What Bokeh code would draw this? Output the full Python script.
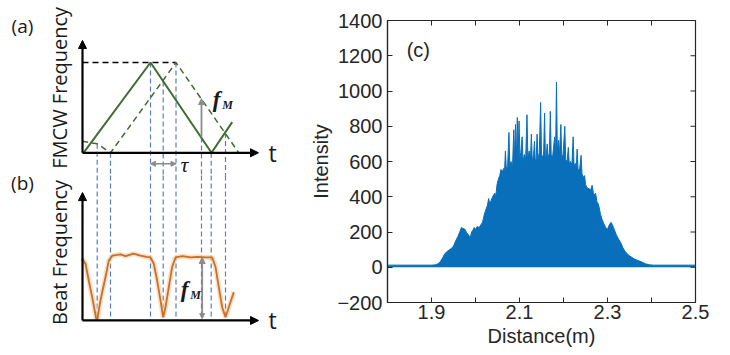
import numpy as np
from bokeh.plotting import figure
from bokeh.layouts import row, column
from bokeh.models import Range1d, FixedTicker, Arrow, NormalHead, Label
from bokeh.embed import file_html
from bokeh.resources import INLINE

# ---------------- panel (c): measured spectrum ----------------
distance = [1.800, 1.900, 1.910, 1.915, 1.920, 1.925, 1.930, 1.935, 1.940, 1.945, 1.950, 1.955,
            1.960, 1.965, 1.968, 1.972, 1.976, 1.980, 1.984, 1.988, 1.991, 1.994, 1.997, 2.000,
            2.004, 2.008, 2.012, 2.016, 2.020, 2.024, 2.027, 2.030, 2.032, 2.035, 2.038, 2.041,
            2.044, 2.046, 2.049, 2.052, 2.055, 2.058, 2.061, 2.064, 2.066, 2.068, 2.070, 2.073,
            2.076, 2.078, 2.081, 2.084, 2.087, 2.089, 2.091, 2.093, 2.095, 2.097, 2.099, 2.101,
            2.103, 2.106, 2.108, 2.111, 2.114, 2.117, 2.119, 2.122, 2.125, 2.127, 2.129, 2.132,
            2.134, 2.136, 2.138, 2.140, 2.142, 2.145, 2.148, 2.150, 2.153, 2.155, 2.157, 2.159,
            2.161, 2.163, 2.165, 2.168, 2.170, 2.172, 2.175, 2.177, 2.180, 2.182, 2.184, 2.186,
            2.189, 2.191, 2.194, 2.196, 2.199, 2.203, 2.205, 2.208, 2.211, 2.213, 2.216, 2.219,
            2.222, 2.224, 2.227, 2.229, 2.231, 2.233, 2.236, 2.240, 2.242, 2.245, 2.248, 2.250,
            2.254, 2.258, 2.262, 2.265, 2.268, 2.271, 2.273, 2.276, 2.279, 2.281, 2.284, 2.288,
            2.292, 2.296, 2.300, 2.304, 2.308, 2.312, 2.316, 2.320, 2.325, 2.330, 2.335, 2.340,
            2.345, 2.350, 2.356, 2.362, 2.370, 2.379, 2.386, 2.395, 2.405, 2.420, 2.500]
intensity = [12, 12, 14, 20, 32, 52, 76, 88, 98, 106, 120, 150,
             175, 205, 225, 220, 215, 195, 185, 165, 200, 210, 225, 215,
             232, 225, 240, 255, 300, 330, 350, 390, 365, 375, 395, 410,
             420, 400, 470, 500, 520, 555, 540, 560, 545, 660, 560, 570,
             765, 580, 600, 560, 780, 610, 810, 620, 850, 640, 830, 620,
             650, 740, 600, 640, 610, 865, 620, 660, 620, 755, 600, 640,
             715, 590, 620, 755, 610, 650, 935, 640, 620, 660, 875, 600,
             640, 700, 620, 650, 885, 640, 620, 670, 740, 630, 1050, 660,
             720, 640, 810, 620, 640, 800, 610, 600, 680, 590, 600, 580,
             740, 570, 590, 560, 670, 560, 540, 635, 530, 510, 520, 470,
             450, 445, 440, 465, 420, 410, 420, 370, 360, 340, 300, 270,
             245, 225, 215, 240, 255, 235, 210, 185, 160, 140, 110, 90,
             75, 65, 55, 45, 38, 28, 20, 14, 12, 12, 12]
c_xticks = [1.9, 2.1, 2.3, 2.5]
c_xminor = [2.0, 2.2, 2.4]
c_yticks = [-200, 0, 200, 400, 600, 800, 1000, 1200, 1400]

# ---------------- panel (a): FMCW chirps (schematic) ----------------
tx_t = [0.1, 6.8, 12.9, 14.97]          # transmitted chirp (solid)
tx_f = [0.0, 1.0, 0.0, 0.34]
rx_t = [-0.03, 1.47, 2.8, 9.35, 15.63]  # delayed echo (dashed)
rx_f = [0.128, 0.10, 0.0, 1.0, 0.0]
mark_t = [1.47, 2.8, 6.8, 8.07, 9.35, 11.9, 12.87, 14.3]   # guide lines
mark_f = [0.10, 0.0, 1.0, 0.79, 1.0, 0.17, 0.0, 0.22]
tau_t = [6.8, 9.35]
fm_a_t = 11.9
fm_a_f = [0.17, 0.60]

# ---------------- panel (b): beat frequency (schematic) ----------------
beat_t = [-0.03, 0.3, 0.63, 0.97, 1.37, 1.5, 1.8, 2.3, 2.63, 3.0, 3.8, 4.3, 5.1, 5.8, 6.4, 6.8,
          7.13, 7.47, 7.8, 8.07, 8.3, 8.63, 8.97, 9.3, 10.0, 10.8, 11.5, 12.3, 12.97,
          13.3, 13.63, 13.97, 14.3, 14.63, 15.13]
beat_f = [0.98, 0.90, 0.63, 0.37, 0.03, 0.03, 0.32, 0.69, 0.95, 1.03, 1.05, 1.02, 1.06, 1.03, 1.01, 1.0,
          0.9, 0.63, 0.32, 0.05, 0.21, 0.53, 0.85, 1.0, 1.02, 1.0, 1.01, 1.0, 1.0,
          0.85, 0.53, 0.21, 0.05, 0.21, 0.45]
fm_b_t = 11.97
fm_b_f = [0.03, 1.0]

BLUE = "#0a6fba"
GREEN = "#3f6c31"
GUIDE = "#5a7db3"
GRAY = "#8c8c8c"
ORANGE = "#c8702c"
AXC = "#262626"
TXT = "#1a1a1a"
SANS = "Open Sans"
SERIF = "Liberation Serif"

# ---------------- left figure: panels (a) and (b) ----------------
ya = (-2.245, 1.687)     # FMCW frequency range (default y range)
yb = (-0.556, 5.079)     # beat frequency range (extra y range)
yb_top_a = -0.251        # where panel (a) ends / panel (b) begins
yb_top_b = 2.302

pl = figure(width=290, height=355, x_range=Range1d(-8.2, 20.8), y_range=Range1d(*ya),
            toolbar_location=None, output_backend="svg", x_axis_type=None, y_axis_type=None,
            min_border=0, outline_line_color=None, background_fill_color="white",
            border_fill_color="white")
pl.extra_y_ranges = {"beat": Range1d(*yb)}
pl.grid.visible = False


def head(size, color):
    return NormalHead(size=size, fill_color=color, line_color=color)


def axes_arrows(ytop, rname="default"):
    pl.add_layout(Arrow(end=head(8, "black"), x_start=0, y_start=0, x_end=0, y_end=ytop,
                        line_width=2.2, line_color="black", y_range_name=rname))
    pl.add_layout(Arrow(end=head(8, "black"), x_start=0, y_start=0, x_end=17.6, y_end=0,
                        line_width=2.2, line_color="black", y_range_name=rname))
    pl.add_layout(Label(x=19.0, y=0, text="t", text_font=SANS, text_font_size="23px",
                        text_align="center", text_baseline="middle", text_color=TXT,
                        y_range_name=rname))


def txt(x, y, s, size, rname="default", font=SANS, style="normal", angle=0.0):
    pl.add_layout(Label(x=x, y=y, text=s, text_font=font, text_font_style=style,
                        text_font_size=size, text_align="center", text_baseline="middle",
                        text_color=TXT, angle=angle, y_range_name=rname))


# (a)
pl.segment(x0=mark_t, y0=mark_f, x1=mark_t, y1=[yb_top_a] * len(mark_t),
           line_color=GUIDE, line_width=1.2, line_dash="5 3")
pl.line([0, rx_t[3]], [1, 1], line_color="black", line_width=1.5, line_dash="6 4")
pl.line(rx_t, rx_f, line_color=GREEN, line_width=1.5, line_dash="6 4")
pl.line(tx_t, tx_f, line_color=GREEN, line_width=2)
pl.add_layout(Arrow(end=head(6, GRAY), x_start=fm_a_t, y_start=fm_a_f[0], x_end=fm_a_t,
                    y_end=fm_a_f[1], line_color=GRAY, line_width=1.8))
pl.add_layout(Arrow(start=head(5, GRAY), end=head(5, GRAY), x_start=tau_t[0], y_start=-0.122,
                    x_end=tau_t[1], y_end=-0.122, line_color=GRAY, line_width=1.5))
axes_arrows(1.244)
txt(10.2, -0.13, "τ", "22px", font=SERIF, style="italic")
txt(13.4, 0.59, "f", "23px", font=SERIF, style="bold italic")
txt(14.5, 0.53, "M", "12px", font=SERIF, style="bold italic")
txt(-6.0, 1.41, "(a)", "19px")
txt(-2.3, 0.72, "FMCW Frequency", "20px", angle=np.pi / 2)

# (b)
pl.segment(x0=mark_t, y0=[yb_top_b] * len(mark_t), x1=mark_t, y1=[0] * len(mark_t),
           line_color=GUIDE, line_width=1.2, line_dash="5 3", y_range_name="beat")
pl.line(beat_t, beat_f, line_color="#f3c9a0", line_width=5, line_alpha=0.6, y_range_name="beat")
pl.line(beat_t, beat_f, line_color=ORANGE, line_width=1.8, y_range_name="beat")
pl.add_layout(Arrow(start=head(5, GRAY), end=head(6, GRAY), x_start=fm_b_t, y_start=fm_b_f[0],
                    x_end=fm_b_t, y_end=fm_b_f[1], line_color=GRAY, line_width=1.8,
                    y_range_name="beat"))
axes_arrows(2.03, "beat")
txt(10.2, 0.49, "f", "23px", "beat", font=SERIF, style="bold italic")
txt(11.3, 0.41, "M", "12px", "beat", font=SERIF, style="bold italic")
txt(-6.0, 2.18, "(b)", "19px", "beat")
txt(-2.3, 1.08, "Beat Frequency", "20px", "beat", angle=np.pi / 2)

# ---------------- right figure: panel (c) ----------------
pc = figure(width=440, height=355, x_range=Range1d(1.8, 2.5), y_range=Range1d(-200, 1400),
            toolbar_location=None, output_backend="svg",
            min_border_left=97, min_border_right=35, min_border_top=20, min_border_bottom=53,
            background_fill_color="white", border_fill_color="white",
            outline_line_color=AXC, outline_line_width=1.2, outline_line_alpha=1.0)
pc.grid.visible = False
pc.varea(x=distance, y1=0, y2=intensity, fill_color=BLUE)
pc.line(distance, intensity, line_color=BLUE, line_width=1)

# tick marks on the top and right frame edges (inside, ~5 px)
top_ticks = c_xticks + c_xminor
pc.segment(x0=top_ticks, y0=[1400] * len(top_ticks), x1=top_ticks,
           y1=[1400 - 5 * 1600 / 282] * len(top_ticks), line_color=AXC, line_width=1)
pc.segment(x0=[2.5] * len(c_yticks), y0=c_yticks, x1=[2.5 - 5 * 0.7 / 308] * len(c_yticks),
           y1=c_yticks, line_color=AXC, line_width=1)

LF = "Liberation Sans"
pc.xaxis.ticker = FixedTicker(ticks=c_xticks, minor_ticks=c_xminor)
pc.yaxis.ticker = FixedTicker(ticks=c_yticks, minor_ticks=[])
pc.xaxis.axis_label = "Distance(m)"
pc.yaxis.axis_label = "Intensity"
for ax in pc.xaxis + pc.yaxis:
    ax.major_tick_in = 5
    ax.major_tick_out = 0
    ax.minor_tick_in = 5
    ax.minor_tick_out = 0
    ax.axis_line_color = AXC
    ax.axis_line_width = 1.2
    ax.major_tick_line_color = AXC
    ax.minor_tick_line_color = AXC
    ax.major_label_text_font = LF
    ax.major_label_text_font_size = "20px"
    ax.major_label_text_color = AXC
    ax.axis_label_text_font = LF
    ax.axis_label_text_font_size = "20px"
    ax.axis_label_text_font_style = "normal"
    ax.axis_label_text_color = AXC
pc.xaxis.major_label_standoff = 2
pc.xaxis.axis_label_standoff = 3
pc.yaxis.major_label_standoff = 5
pc.yaxis.axis_label_standoff = 2

pc.add_layout(Label(x=1.87, y=1230, text="(c)", text_font=LF, text_font_size="20px",
                    text_color=AXC, text_align="center", text_baseline="middle"))
pc.add_layout(Label(x=2.45, y=-448, text="SCIENCEAQ.COM", text_font=LF, text_font_size="10px",
                    text_color="#f2b4b4", text_align="center", text_baseline="middle"))

layout = row(column(pl), pc)
open("out.html", "w").write(file_html(layout, INLINE))
